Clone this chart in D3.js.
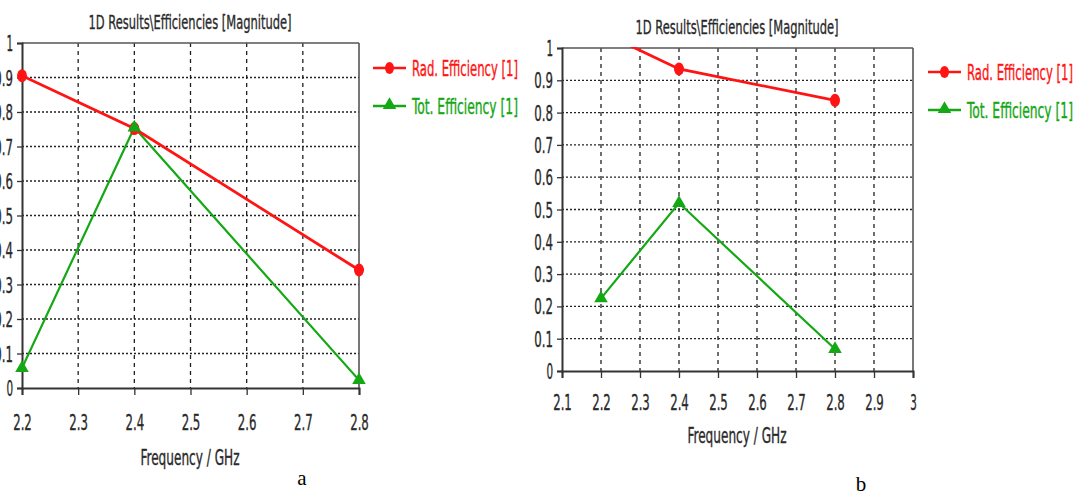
<!DOCTYPE html>
<html><head><meta charset="utf-8">
<script src="https://cdn.jsdelivr.net/npm/d3@7/dist/d3.min.js"></script>
<style>
html,body{margin:0;padding:0;background:#fff;}
svg{display:block;}
.t{font-family:"DejaVu Sans Condensed","Liberation Sans Narrow","Liberation Sans",sans-serif;}
</style></head>
<body>
<svg id="c" width="1088" height="492"></svg>
<script>
// ---- data ----
const chartTitle = "1D Results\\Efficiencies [Magnitude]";
const xAxisTitle = "Frequency / GHz";
const seriesNames = ["Rad. Efficiency [1]", "Tot. Efficiency [1]"];
const panelLabels = ["a", "b"];
const freqA = [2.2, 2.4, 2.8];
const radA = [0.905, 0.752, 0.342];
const totA = [0.058, 0.755, 0.023];
const freqB = [2.2, 2.4, 2.8];
const radB = [1.05, 0.935, 0.838];
const totB = [0.225, 0.52, 0.068];
const xTicksA = [2.2, 2.3, 2.4, 2.5, 2.6, 2.7, 2.8];
const xTicksB = [2.1, 2.2, 2.3, 2.4, 2.5, 2.6, 2.7, 2.8, 2.9, 3];
const yTicks = [0, 0.1, 0.2, 0.3, 0.4, 0.5, 0.6, 0.7, 0.8, 0.9, 1];

const RED = "#ff1414", GREEN = "#14a814", INK = "#2a2a2a";
const svg = d3.select("#c");

function squeeze(sel, w) {
  sel.attr("textLength", w).attr("lengthAdjust", "spacingAndGlyphs");
}
function ink(sel, c) {
  sel.attr("fill", c).attr("stroke", c).attr("stroke-width", 0.35);
}
// narrow tick label widths: digits ~6.6px, dot ~5.5px
function tickWidth(s) {
  let w = 0;
  for (const ch of s) w += (ch === "." ? 5.5 : 6.6);
  return w;
}

function panel(cfg) {
  const g = svg.append("g");
  const x = d3.scaleLinear().domain(cfg.xDomain).range([cfg.left, cfg.right]);
  const y = d3.scaleLinear().domain([0, 1]).range([cfg.bottom, cfg.top]);
  const id = "clip" + cfg.key;
  svg.append("defs").append("clipPath").attr("id", id)
    .append("rect").attr("x", cfg.left).attr("y", cfg.top - 1)
    .attr("width", cfg.right - cfg.left).attr("height", cfg.bottom - cfg.top + 1);

  // grid
  g.selectAll(".vg").data(cfg.xTicks.filter(v => v > cfg.xDomain[0] + 1e-9 && v < cfg.xDomain[1] - 1e-9))
    .enter().append("line")
    .attr("x1", d => x(d)).attr("x2", d => x(d))
    .attr("y1", cfg.top).attr("y2", cfg.bottom)
    .attr("stroke", "#222").attr("stroke-width", 1.3).attr("stroke-dasharray", "4,4");
  g.selectAll(".hg").data(yTicks.filter(v => v > 0 && v < 1))
    .enter().append("line")
    .attr("x1", cfg.left).attr("x2", cfg.right)
    .attr("y1", d => y(d)).attr("y2", d => y(d))
    .attr("stroke", "#222").attr("stroke-width", 1.3).attr("stroke-dasharray", "2,2");

  // frame
  g.append("line").attr("x1", cfg.left).attr("x2", cfg.right).attr("y1", cfg.top).attr("y2", cfg.top)
    .attr("stroke", "#555").attr("stroke-width", 1.6);
  g.append("line").attr("x1", cfg.right).attr("x2", cfg.right).attr("y1", cfg.top).attr("y2", cfg.bottom)
    .attr("stroke", "#555").attr("stroke-width", 1.6);

  // axes
  const fmt = d3.format("~g");
  const xAxis = d3.axisBottom(x).tickValues(cfg.xTicks).tickSize(7).tickFormat(fmt);
  const gx = g.append("g").attr("transform", `translate(0,${cfg.bottom})`).call(xAxis);
  gx.select(".domain").attr("stroke", "#333").attr("stroke-width", 2);
  gx.selectAll(".tick line").attr("stroke", "#333").attr("stroke-width", 1.3);
  gx.selectAll(".tick text").attr("class", "t").attr("font-size", 21).call(ink, INK)
    .attr("y", cfg.xLabelY - cfg.bottom).attr("dy", "0.36em")
    .attr("textLength", d => tickWidth(fmt(d))).attr("lengthAdjust", "spacingAndGlyphs");

  const yAxis = d3.axisLeft(y).tickValues(yTicks).tickSize(5).tickFormat(fmt);
  const gy = g.append("g").attr("transform", `translate(${cfg.left},0)`).call(yAxis);
  gy.select(".domain").attr("stroke", "#333").attr("stroke-width", 2);
  gy.selectAll(".tick line").attr("stroke", "#333").attr("stroke-width", 1.3);
  gy.selectAll(".tick text").attr("class", "t").attr("font-size", 21).call(ink, INK)
    .attr("x", cfg.yLabelX - cfg.left).attr("dy", "0.36em")
    .attr("textLength", d => tickWidth(fmt(d))).attr("lengthAdjust", "spacingAndGlyphs");

  // series
  const line = d3.line().x(d => x(d[0])).y(d => y(d[1]));
  const plot = g.append("g").attr("clip-path", `url(#${id})`);
  const rad = cfg.freq.map((f, i) => [f, cfg.rad[i]]);
  const tot = cfg.freq.map((f, i) => [f, cfg.tot[i]]);
  plot.append("path").datum(tot).attr("d", line).attr("fill", "none").attr("stroke", GREEN).attr("stroke-width", 2.2);
  plot.append("path").datum(rad).attr("d", line).attr("fill", "none").attr("stroke", RED).attr("stroke-width", 2.8);
  const mk = g.append("g");
  mk.selectAll(".rm").data(rad.filter(d => d[1] <= 1)).enter().append("ellipse")
    .attr("cx", d => x(d[0])).attr("cy", d => y(d[1])).attr("rx", 5).attr("ry", 6.5).attr("fill", RED);
  const tri = d3.symbol().type(d3.symbolTriangle).size(80);
  mk.selectAll(".tm").data(tot).enter().append("path")
    .attr("d", tri).attr("transform", d => `translate(${x(d[0])},${y(d[1])})`).attr("fill", GREEN);

  // title
  g.append("text").attr("class", "t").attr("x", cfg.titleX).attr("y", cfg.titleY)
    .attr("text-anchor", "middle").attr("font-size", 20).call(ink, INK).text(chartTitle)
    .call(squeeze, 203);
  // axis title
  g.append("text").attr("class", "t").attr("x", cfg.axisTitleX).attr("y", cfg.axisTitleY)
    .attr("text-anchor", "middle").attr("font-size", 21).call(ink, INK).text(xAxisTitle)
    .call(squeeze, 99);

  // legend
  const cols = [RED, GREEN];
  seriesNames.forEach((name, i) => {
    const ly = cfg.legY[i];
    g.append("line").attr("x1", cfg.legX).attr("x2", cfg.legX + 33).attr("y1", ly).attr("y2", ly)
      .attr("stroke", cols[i]).attr("stroke-width", 2.6);
    if (i === 0) {
      g.append("ellipse").attr("cx", cfg.legX + 16.5).attr("cy", ly).attr("rx", 4.5).attr("ry", 6).attr("fill", RED);
    } else {
      g.append("path").attr("d", tri).attr("transform", `translate(${cfg.legX + 16.5},${ly - 1})`).attr("fill", GREEN);
    }
    g.append("text").attr("class", "t").attr("x", cfg.legX + 39).attr("y", ly + 8)
      .attr("font-size", 21).call(ink, cols[i]).text(name).call(squeeze, 106);
  });

  // panel label
  g.append("text").attr("x", cfg.labX).attr("y", cfg.labY).attr("text-anchor", "middle")
    .attr("font-family", "'Liberation Serif','Times New Roman',serif").attr("font-size", 21)
    .attr("fill", "#000").text(cfg.label);
}

panel({
  key: "a", xDomain: [2.2, 2.8], xTicks: xTicksA,
  left: 22, right: 359, top: 43, bottom: 388,
  freq: freqA, rad: radA, tot: totA,
  xLabelY: 422, yLabelX: 13,
  titleX: 190, titleY: 29, axisTitleX: 190, axisTitleY: 465,
  legX: 373, legY: [68, 106], labX: 302, labY: 485, label: panelLabels[0]
});
panel({
  key: "b", xDomain: [2.1, 3.0], xTicks: xTicksB,
  left: 562, right: 913, top: 48, bottom: 371,
  freq: freqB, rad: radB, tot: totB,
  xLabelY: 402, yLabelX: 553,
  titleX: 737, titleY: 34, axisTitleX: 737, axisTitleY: 443,
  legX: 928, legY: [72, 110], labX: 861, labY: 491, label: panelLabels[1]
});
</script>
</body></html>
